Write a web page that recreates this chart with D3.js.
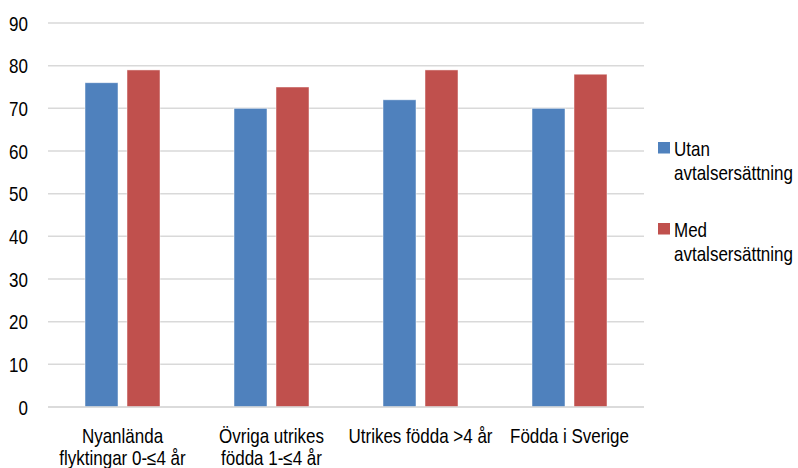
<!DOCTYPE html>
<html>
<head>
<meta charset="utf-8">
<script src="https://cdn.jsdelivr.net/npm/d3@7"></script>
<style>
  html, body { margin: 0; padding: 0; background: #fff; }
  svg text { font-family: "Liberation Sans", Arial, sans-serif; fill: #000; }
</style>
</head>
<body>
<svg id="chart" width="798" height="468"></svg>
<script>
// Categories (each label may span two lines)
const categories = ["Nyanlända flyktingar 0-≤4 år", "Övriga utrikes födda 1-≤4 år", "Utrikes födda >4 år", "Födda i Sverige"];
const categoryLines = [["Nyanlända", "flyktingar 0-≤4 år"], ["Övriga utrikes", "födda 1-≤4 år"], ["Utrikes födda >4 år"], ["Födda i Sverige"]];
const seriesNames = ["Utan avtalsersättning", "Med avtalsersättning"];
const legendLines = [["Utan", "avtalsersättning"], ["Med", "avtalsersättning"]];
const utan = [76, 70, 72, 70];
const med = [79, 75, 79, 78];
const yTicks = [0, 10, 20, 30, 40, 50, 60, 70, 80, 90];
const colors = ["#4f81bd", "#c0504d"];

const svg = d3.select("#chart");
const plotLeft = 48, plotRight = 644, plotTop = 23, plotBottom = 407;
const fontSize = 20;
const narrow = 0.85; // horizontal squeeze for a condensed look

const x0 = d3.scaleBand().domain(categories).range([plotLeft, plotRight]).padding(0);
const x1 = d3.scaleBand().domain(seriesNames).range([37, 112]).paddingInner(9 / 42).paddingOuter(0);
const y = d3.scaleLinear().domain([0, 90]).range([plotBottom, plotTop]);

// Horizontal gridlines
svg.append("g").selectAll("line").data(yTicks).join("line")
  .attr("x1", plotLeft).attr("x2", plotRight)
  .attr("y1", d => y(d)).attr("y2", d => y(d))
  .attr("stroke", "#d9d9d9").attr("stroke-width", 1.5);

// Y axis labels
const yAxis = d3.axisLeft(y).tickValues(yTicks).tickSize(0).tickPadding(0);
const yG = svg.append("g").attr("transform", "translate(28,0)").call(yAxis);
yG.select(".domain").remove();
yG.attr("font-family", null).attr("font-size", null);
yG.selectAll("text").attr("font-size", fontSize).attr("dy", "0.36em").attr("fill", "#000")
  .attr("transform", `scale(${narrow},1)`);

// Bars
const rows = categories.map((c, i) => ({ cat: c, vals: [utan[i], med[i]] }));
const groups = svg.append("g").selectAll("g").data(rows).join("g")
  .attr("transform", d => `translate(${x0(d.cat)},0)`);
groups.selectAll("rect").data(d => d.vals.map((v, j) => ({ s: seriesNames[j], v, j }))).join("rect")
  .attr("x", d => x1(d.s))
  .attr("width", x1.bandwidth())
  .attr("y", d => y(d.v))
  .attr("height", d => y(0) - y(d.v))
  .attr("fill", d => colors[d.j])
  .attr("stroke", "rgba(255,255,255,0.6)").attr("stroke-width", 0.8);

// Redraw the baseline over bar bottoms
svg.append("line").attr("x1", plotLeft).attr("x2", plotRight)
  .attr("y1", y(0)).attr("y2", y(0)).attr("stroke", "#d9d9d9").attr("stroke-width", 1.5);

// Category labels
const xl = svg.append("g").selectAll("text").data(categories).join("text")
  .attr("transform", d => `translate(${x0(d) + x0.bandwidth() / 2},443) scale(${narrow},1)`)
  .attr("text-anchor", "middle")
  .attr("font-size", fontSize);
xl.selectAll("tspan").data((d, i) => categoryLines[i]).join("tspan")
  .attr("x", 0)
  .attr("dy", (d, i) => i === 0 ? 0 : 22)
  .text(d => d);

// Legend
const legendTop = [142, 223];
const lg = svg.append("g").selectAll("g").data(seriesNames).join("g")
  .attr("transform", (d, i) => `translate(658,${legendTop[i]})`);
lg.append("rect").attr("width", 12).attr("height", 11.5).attr("fill", (d, i) => colors[i]);
const lt = lg.append("text").attr("transform", `translate(16,14) scale(${narrow},1)`).attr("font-size", fontSize);
lt.selectAll("tspan").data((d, i) => legendLines[i]).join("tspan")
  .attr("x", 0).attr("dy", (d, i) => i === 0 ? 0 : 24).text(d => d);
</script>
</body>
</html>
